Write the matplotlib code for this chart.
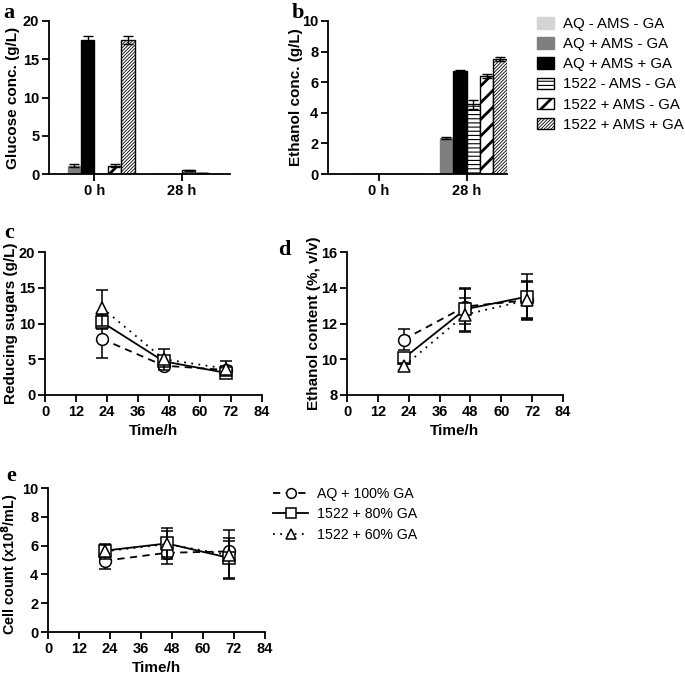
import matplotlib
matplotlib.use("Agg")
import matplotlib.pyplot as plt
import numpy as np
from matplotlib.patches import Patch
from matplotlib.lines import Line2D

plt.rcParams['font.family'] = ['Liberation Sans', 'DejaVu Sans']

# ---------------- data ----------------
bar_groups = ["0 h", "28 h"]
bar_series = ["AQ - AMS - GA", "AQ + AMS - GA", "AQ + AMS + GA",
              "1522 - AMS - GA", "1522 + AMS - GA", "1522 + AMS + GA"]
glucose = [[0.0, 0.0], [1.1, 0.0], [17.5, 0.0], [0.0, 0.5], [1.1, 0.1], [17.5, 0.0]]
glucose_err = [[0, 0], [0.2, 0], [0.5, 0], [0, 0.05], [0.25, 0.02], [0.5, 0]]
ethanol = [[0.0, 0.0], [0.0, 2.35], [0.0, 6.7], [0.0, 4.55], [0.0, 6.4], [0.0, 7.5]]
ethanol_err = [[0, 0], [0, 0.04], [0, 0.1], [0, 0.28], [0, 0.15], [0, 0.13]]

time_h = [22, 46, 70]
line_series = ["AQ + 100% GA", "1522 + 80% GA", "1522 + 60% GA"]
sugars = [[7.85, 4.1, 3.5], [10.2, 4.7, 3.1], [12.2, 5.0, 3.7]]
sugars_err = [[2.7, 0.4, 0.5], [1.0, 0.7, 0.4], [2.5, 1.5, 1.05]]
etoh = [[11.1, 12.95, 13.3], [10.05, 12.8, 13.5], [9.6, 12.5, 13.3]]
etoh_err = [[0.6, 1.0, 1.0], [0.3, 1.2, 1.25], [0.2, 0.95, 1.1]]
cells = [[4.95, 5.5, 5.6], [5.65, 6.15, 5.15], [5.6, 6.1, 5.35]]
cells_err = [[0.6, 0.8, 0.7], [0.4, 1.05, 1.4], [0.5, 0.9, 1.7]]

# ---------------- styles ----------------
bar_face = ["#d4d4d4", "#7f7f7f", "#000000", "white", "white", "white"]
bar_hatch = [None, None, None, "----", "//", "/" * 10]
bar_hlw = [1.0, 1.0, 1.0, 0.8, 2.0, 0.6]
line_ls = [(0, (4, 3)), "-", (0, (1, 3))]
line_mk = ["o", "s", "^"]

fig = plt.figure(figsize=(6.85, 6.75), dpi=100)
W, H = 685, 675


def ax_px(l, t, r, b):
    return fig.add_axes([l / W, 1 - b / H, (r - l) / W, (b - t) / H])


def set_hlw(p, lw):
    try:
        p.set_hatch_linewidth(lw)
    except Exception:
        p._hatch_linewidth = lw


def style(ax, label_right_px, label_y=0.5):
    for s in ["top", "right"]:
        ax.spines[s].set_visible(False)
    for s in ["left", "bottom"]:
        ax.spines[s].set_linewidth(1.3)
    ax.tick_params(width=1.3, length=5, labelsize=10.5, pad=2)
    for lab in ax.get_xticklabels() + ax.get_yticklabels():
        lab.set_fontweight("bold")
    pos = ax.get_position()
    l_px = pos.x0 * W
    w_px = pos.width * W
    ax.yaxis.set_label_coords((label_right_px - l_px) / w_px, label_y)


def bars(ax, vals, errs):
    x = np.arange(len(bar_groups))
    w = 0.153
    for i in range(len(bar_series)):
        off = (i - 2.5) * w
        plt.rcParams['hatch.linewidth'] = bar_hlw[i]
        b = ax.bar(x + off, vals[i], w, color=bar_face[i],
                   edgecolor="black" if i >= 3 else bar_face[i],
                   hatch=bar_hatch[i], linewidth=1.0, zorder=2)
        for p in b:
            set_hlw(p, bar_hlw[i])
        for xi, v, e in zip(x + off, vals[i], errs[i]):
            if e > 0:
                ax.errorbar(xi, v, yerr=e, fmt="none", ecolor="black", elinewidth=1.0,
                            capsize=3.5, capthick=1.0, zorder=3)
    plt.rcParams['hatch.linewidth'] = 1.0
    ax.set_xticks(x)
    ax.set_xticklabels(bar_groups)


LBL = dict(fontsize=11, fontweight="bold")

# panel a
axa = ax_px(49, 21, 230, 174)
bars(axa, glucose, glucose_err)
axa.set_xlim(-0.52, 1.55)
axa.set_ylim(0, 20)
axa.set_yticks([0, 5, 10, 15, 20])
axa.set_ylabel("Glucose conc. (g/L)", **LBL)
style(axa, 20)

# panel b
axb = ax_px(328, 21, 507, 174)
bars(axb, ethanol, ethanol_err)
axb.set_xlim(-0.58, 1.46)
axb.set_ylim(0, 10)
axb.set_yticks([0, 2, 4, 6, 8, 10])
axb.set_ylabel("Ethanol conc. (g/L)", **LBL)
style(axb, 303)

leg_handles = [Patch(facecolor=bar_face[i], edgecolor="black" if i >= 3 else bar_face[i],
                     hatch=bar_hatch[i], linewidth=1.0) for i in range(len(bar_series))]
legb = fig.legend(leg_handles, bar_series, loc="upper left",
                  bbox_to_anchor=(537 / W, 1 - 17 / H),
                  frameon=False, fontsize=10.8, handlelength=1.1, handleheight=0.8,
                  handletextpad=0.65, labelspacing=0.41, borderaxespad=0, borderpad=0)
for p, lw in zip(legb.get_patches(), bar_hlw):
    set_hlw(p, lw)


def lines(ax, vals, errs):
    for i in range(len(line_series)):
        ax.errorbar(time_h, vals[i], yerr=errs[i], color="black", ls=line_ls[i], lw=1.3,
                    marker=line_mk[i], ms=8 if i else 8.5, mfc="white", mec="black", mew=1.1,
                    ecolor="black", elinewidth=1.1, capsize=4, capthick=1.1, zorder=3 + i)
    ax.set_xlim(0, 84)
    ax.set_xticks(range(0, 85, 12))
    ax.set_xlabel("Time/h", labelpad=4, **LBL)


axc = ax_px(45, 252, 262, 395)
lines(axc, sugars, sugars_err)
axc.set_ylim(0, 20)
axc.set_yticks([0, 5, 10, 15, 20])
axc.set_ylabel("Reducing sugars (g/L)", **LBL)
style(axc, 18)

axd = ax_px(347, 252, 563, 395)
lines(axd, etoh, etoh_err)
axd.set_ylim(8, 16)
axd.set_yticks([8, 10, 12, 14, 16])
axd.set_ylabel("Ethanol content (%, v/v)", **LBL)
style(axd, 321)

axe = ax_px(48, 488, 265, 632)
lines(axe, cells, cells_err)
axe.set_ylim(0, 10)
axe.set_yticks([0, 2, 4, 6, 8, 10])
axe.set_ylabel(r"Cell count (x10$^{\mathbf{8}}$/mL)", fontsize=10.4, fontweight="bold")
style(axe, 21, 0.47)

lh = [Line2D([], [], color="black", ls=line_ls[i], lw=1.3, marker=line_mk[i], ms=7,
             mfc="white", mec="black", mew=1.1) for i in range(3)]
fig.legend(lh, line_series, loc="upper left", bbox_to_anchor=(273 / W, 1 - 487 / H),
           frameon=False, fontsize=10.2, handlelength=2.5, handletextpad=0.6,
           labelspacing=0.45, borderaxespad=0, borderpad=0)

# panel letters
for lt, (x, y) in zip("abcde", [(3, 18), (292, 18), (4, 238), (278, 255), (6, 481)]):
    fig.text(x / W, 1 - y / H, lt, fontsize=16, fontweight="bold",
             family=["Liberation Serif", "DejaVu Serif"], ha="left", va="baseline")

fig.savefig("out.png", dpi=100)
